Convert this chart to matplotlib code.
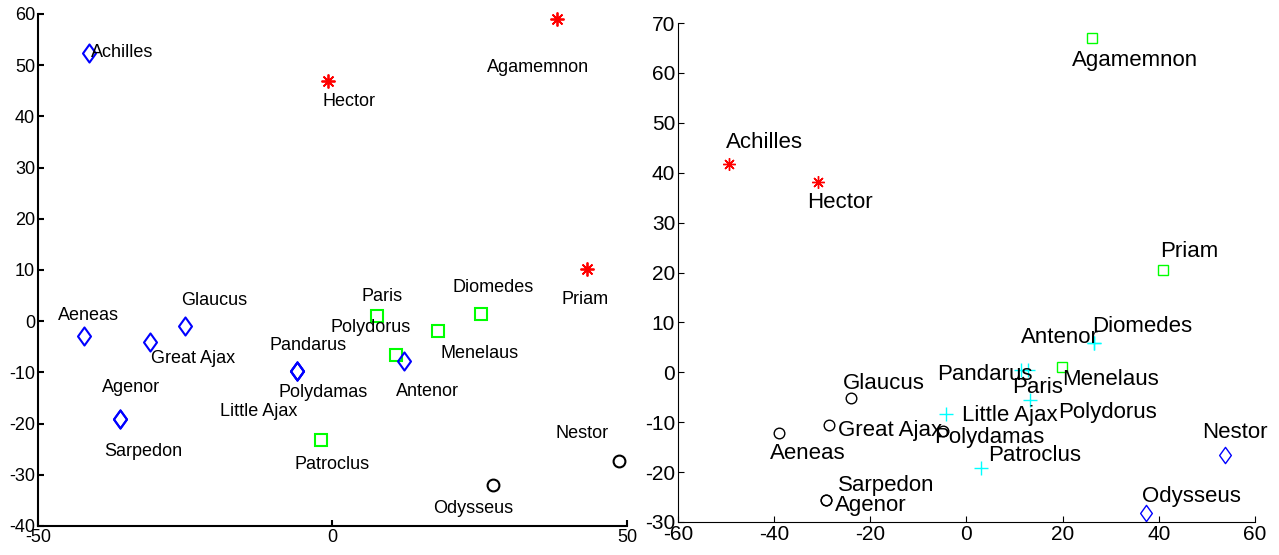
import matplotlib
matplotlib.use("Agg")
import matplotlib.pyplot as plt
from matplotlib.path import Path

plt.rcParams['font.family'] = ['Liberation Sans', 'DejaVu Sans']
plt.rcParams['axes.unicode_minus'] = False

names = ['Achilles', 'Hector', 'Agamemnon', 'Priam', 'Paris', 'Diomedes',
         'Menelaus', 'Polydorus', 'Antenor', 'Pandarus', 'Polydamas',
         'Little Ajax', 'Patroclus', 'Nestor', 'Odysseus', 'Aeneas',
         'Glaucus', 'Great Ajax', 'Agenor', 'Sarpedon']

# left map: coordinates, cluster and label anchor (centre)
left_x = [-41.3, -0.8, 38.1, 43.2, 7.6, 25.2, 17.9, 10.8, 12.1, -6.0, -6.0,
          -6.0, -2.0, 48.6, 27.2, -42.2, -25.0, -31.0, -36.1, -36.1]
left_y = [52.4, 46.9, 59.0, 10.2, 1.0, 1.4, -1.9, -6.6, -7.8, -9.7, -9.7,
          -9.7, -23.2, -27.3, -32.0, -2.9, -0.9, -4.1, -19.1, -19.1]
left_group = ['d', 's', 's', 's', 'q', 'q', 'q', 'q', 'd', 'd', 'd',
              'd', 'q', 'c', 'c', 'd', 'd', 'd', 'd', 'd']
left_lx = [-35.7, 2.8, 34.9, 42.9, 8.4, 27.2, 24.9, 6.4, 16.2, -4.2, -1.6,
           -12.6, -0.1, 42.4, 23.9, -41.5, -20.1, -23.7, -34.2, -32.2]
left_ly = [52.4, 43.0, 49.6, 4.3, 4.9, 6.5, -6.4, -1.3, -13.8, -4.8, -14.0,
           -17.7, -27.9, -22.0, -36.5, 1.2, 4.1, -7.2, -13.0, -25.4]

# right map: coordinates, cluster and label anchor (left edge)
right_x = [-49.4, -30.9, 26.1, 40.9, 12.8, 26.5, 19.9, 13.2, 26.5, 11.3,
           -4.9, -4.3, 3.0, 53.8, 37.3, -39.0, -24.0, -28.6, -29.2, -29.2]
right_y = [41.7, 38.1, 67.0, 20.5, 0.5, 5.9, 1.1, -5.6, 5.9, 0.5,
           -11.8, -8.4, -19.2, -16.6, -28.2, -12.2, -5.2, -10.6, -25.6, -25.6]
right_group = ['s', 's', 'q', 'q', 'p', 'p', 'q', 'p', 'p', 'p',
               'c', 'p', 'p', 'd', 'd', 'c', 'c', 'c', 'c', 'c']
right_lx = [-50.0, -33.2, 21.9, 40.2, 9.5, 26.1, 19.9, 19.0, 11.3, -6.1,
            -6.8, -0.9, 4.5, 49.0, 36.5, -40.9, -25.7, -26.7, -27.3, -26.7]
right_ly = [46.0, 34.1, 62.4, 24.3, -3.1, 9.1, -1.5, -8.0, 6.9, -0.5,
            -13.0, -8.6, -16.6, -12.0, -24.8, -16.2, -2.3, -11.6, -26.6, -22.6]

# matlab style diamond, a bit narrower than tall
diamond = Path([(0, 1), (0.72, 0), (0, -1), (-0.72, 0), (0, 1)],
               [Path.MOVETO, Path.LINETO, Path.LINETO, Path.LINETO, Path.CLOSEPOLY])

styles = {
    'd': dict(marker=diamond, color='#0000ff', ms=13, mew=1.5, mfc='none'),
    's': dict(marker=(8, 2, 0), color='#ff0000', ms=10, mew=1.3),
    'q': dict(marker='s', color='#00ff00', ms=8, mew=1.5, mfc='none'),
    'c': dict(marker='o', color='black', ms=8.5, mew=1.5, mfc='none'),
    'p': dict(marker='+', color='#00ffff', ms=11, mew=1.3),
}

fig = plt.figure(figsize=(12.79, 5.55), dpi=100)
ax1 = fig.add_axes([0.0297, 0.0523, 0.4605, 0.9225])
ax2 = fig.add_axes([0.5301, 0.0595, 0.4511, 0.899])


def draw(ax, xs, ys, groups, lx, ly, ha, fs, small):
    for x, y, g in zip(xs, ys, groups):
        st = dict(styles[g])
        if small:
            st['ms'] = st['ms'] * 0.9
            st['mew'] = 1.0
        ax.plot([x], [y], linestyle='none', clip_on=False, **st)
    for n, tx, ty in zip(names, lx, ly):
        ax.text(tx, ty, n, ha=ha, va='center', fontsize=fs)
    for s in ['top', 'right']:
        ax.spines[s].set_visible(False)
    ax.tick_params(direction='in', length=4, top=False, right=False)


draw(ax1, left_x, left_y, left_group, left_lx, left_ly, 'center', 13, False)
ax1.set_xlim(-50, 50)
ax1.set_ylim(-40, 60)
ax1.set_xticks([-50, 0, 50])
ax1.set_yticks(range(-40, 61, 10))
for s in ['left', 'bottom']:
    ax1.spines[s].set_linewidth(1.5)
ax1.tick_params(width=1.5, labelsize=13, pad=2)

draw(ax2, right_x, right_y, right_group, right_lx, right_ly, 'left', 16, True)
ax2.set_xlim(-60, 60)
ax2.set_ylim(-30, 70)
ax2.set_xticks(range(-60, 61, 20))
ax2.set_yticks(range(-30, 71, 10))
for s in ['left', 'bottom']:
    ax2.spines[s].set_linewidth(0.8)
ax2.tick_params(width=0.8, labelsize=15, pad=2)

fig.savefig('out.png', dpi=100)
